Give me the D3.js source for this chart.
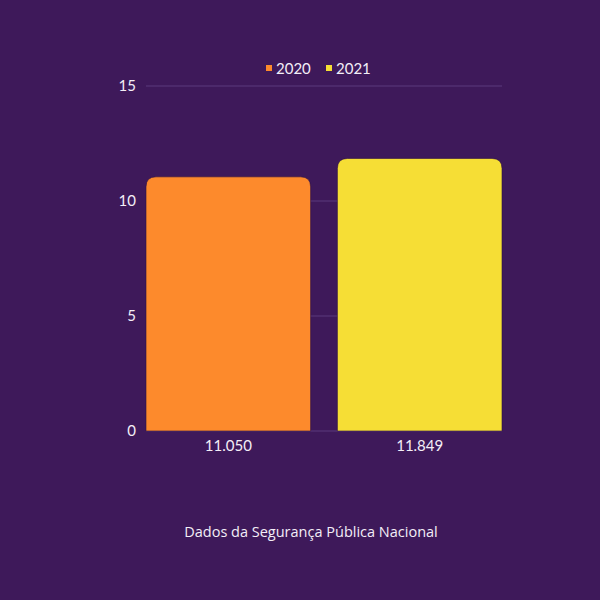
<!DOCTYPE html>
<html><head><meta charset="utf-8">
<script src="https://cdn.jsdelivr.net/npm/d3@7"></script>
<style>html,body{margin:0;padding:0;background:#3e195a;}</style>
</head><body>
<svg id="c" width="600" height="600"></svg>
<script>
const categories = ["11.050", "11.849"];
const seriesNames = ["2020", "2021"];
const values = [11.05, 11.849];
const colors = ["#fd8a2c", "#f6de35"];
const yTicks = [0, 5, 10, 15];
const title = "Dados da Segurança Pública Nacional";

const svg = d3.select("#c");
svg.append("rect").attr("width",600).attr("height",600).attr("fill","#3e195a");
const font = "Lato, 'Open Sans', sans-serif";

const x = d3.scaleBand().domain(categories).range([146, 502]).paddingInner(0.14).paddingOuter(0);
const y = d3.scaleLinear().domain([0, 15]).range([431, 86]);

// gridlines
svg.append("g").selectAll("line").data(yTicks).join("line")
  .attr("x1", 146).attr("x2", 502)
  .attr("y1", d => y(d)).attr("y2", d => y(d))
  .attr("stroke", "#5b3a7c").attr("stroke-width", 1);

// y axis
const yAxis = svg.append("g").attr("transform", "translate(146,0)")
  .call(d3.axisLeft(y).tickValues(yTicks).tickSize(0).tickPadding(10));
yAxis.select(".domain").remove();
yAxis.selectAll("text").attr("fill", "#f3eef7").attr("font-size", 15).attr("font-family", font);

// bars with rounded top corners
const r = 10;
function barPath(x0, w, yTop, yBot) {
  return `M${x0},${yBot}V${yTop + r}Q${x0},${yTop} ${x0 + r},${yTop}H${x0 + w - r}Q${x0 + w},${yTop} ${x0 + w},${yTop + r}V${yBot}Z`;
}
svg.append("g").selectAll("path").data(values).join("path")
  .attr("d", (d, i) => barPath(x(categories[i]), x.bandwidth(), y(d), y(0)))
  .attr("fill", (d, i) => colors[i])
  .attr("stroke", "#2e1145").attr("stroke-width", 0.6);

// x axis labels
const xAxis = svg.append("g").attr("transform", "translate(0,431)")
  .call(d3.axisBottom(x).tickSize(0).tickPadding(9));
xAxis.select(".domain").remove();
xAxis.selectAll("text").attr("fill", "#f3eef7").attr("font-size", 15).attr("font-family", font);

// legend
const legend = svg.append("g");
const lx = [266, 326];
seriesNames.forEach((s, i) => {
  legend.append("rect").attr("x", lx[i]).attr("y", 65).attr("width", 6).attr("height", 6).attr("fill", colors[i]);
  legend.append("text").attr("x", lx[i] + 10).attr("y", 74).text(s)
    .attr("fill", "#f3eef7").attr("font-size", 15).attr("font-family", font);
});

// title
svg.append("text").attr("x", 311).attr("y", 537).attr("text-anchor", "middle")
  .text(title).attr("fill", "#f3eef7").attr("font-size", 14.5).attr("font-family", "'Open Sans', sans-serif");
</script>
</body></html>
